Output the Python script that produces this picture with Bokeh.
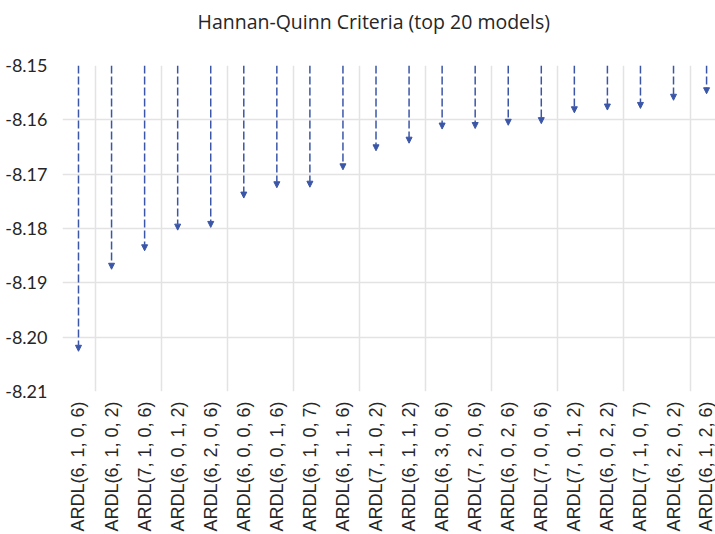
import math
from bokeh.plotting import figure
from bokeh.models import (ColumnDataSource, Range1d, FixedTicker, NumeralTickFormatter,
                          Arrow, NormalHead, Title)
from bokeh.embed import file_html
from bokeh.resources import INLINE

models = ["ARDL(6, 1, 0, 6)", "ARDL(6, 1, 0, 2)", "ARDL(7, 1, 0, 6)", "ARDL(6, 0, 1, 2)",
          "ARDL(6, 2, 0, 6)", "ARDL(6, 0, 0, 6)", "ARDL(6, 0, 1, 6)", "ARDL(6, 1, 0, 7)",
          "ARDL(6, 1, 1, 6)", "ARDL(7, 1, 0, 2)", "ARDL(6, 1, 1, 2)", "ARDL(6, 3, 0, 6)",
          "ARDL(7, 2, 0, 6)", "ARDL(6, 0, 2, 6)", "ARDL(7, 0, 0, 6)", "ARDL(7, 0, 1, 2)",
          "ARDL(6, 0, 2, 2)", "ARDL(7, 1, 0, 7)", "ARDL(6, 2, 0, 2)", "ARDL(6, 1, 2, 6)"]
hq = [-8.2026, -8.1875, -8.1841, -8.1803, -8.1798, -8.1744, -8.1725, -8.1724, -8.1692, -8.1657,
      -8.1643, -8.1617, -8.1616, -8.1610, -8.1607, -8.1587, -8.1582, -8.1579, -8.1564, -8.1552]
y_ticks = [-8.21, -8.20, -8.19, -8.18, -8.17, -8.16, -8.15]

y_min, y_max = y_ticks[0], y_ticks[-1]
xs = list(range(1, len(models) + 1))

p = figure(width=715, height=534, output_backend="svg", toolbar_location=None,
           x_range=Range1d(0.516, 20.27), y_range=Range1d(y_min, y_max),
           min_border_left=62, min_border_right=0, min_border_top=65, min_border_bottom=142)
p.outline_line_color = None
p.background_fill_color = "white"

p.title.text = "Hannan-Quinn Criteria (top 20 models)"
p.title.text_font = "Open Sans"
p.title.text_font_size = "19.5px"
p.title.text_font_style = "normal"
p.title.text_color = "#262626"
p.title.align = "left"
p.title.offset = 135
p.title.standoff = 10

# empty spacer between title and plot frame
p.add_layout(Title(text=" ", text_font_size="1px", standoff=23), "above")

src = ColumnDataSource(dict(x=xs, y0=[y_max] * len(xs), y1=hq))
arrow = Arrow(source=src, x_start="x", y_start="y0", x_end="x", y_end="y1",
              line_color="#3b56a8", line_width=1.5, line_dash="8 3",
              end=NormalHead(size=6, fill_color="#3b56a8", line_color="#3b56a8", line_width=1))
p.add_layout(arrow)

# axes
p.yaxis.ticker = FixedTicker(ticks=y_ticks)
p.yaxis.formatter = NumeralTickFormatter(format="0.00")
p.yaxis.major_label_text_font = "Lato"
p.yaxis.major_label_text_font_size = "18px"
p.yaxis.major_label_text_color = "#262626"
p.yaxis.axis_line_color = None
p.yaxis.major_tick_line_color = None
p.yaxis.minor_tick_line_color = None
p.yaxis.major_label_standoff = 9

p.xaxis.ticker = FixedTicker(ticks=xs)
p.xaxis.major_label_overrides = {x: m for x, m in zip(xs, models)}
p.xaxis.major_label_orientation = math.pi / 2
p.xaxis.major_label_text_font = "Liberation Sans"
p.xaxis.major_label_text_font_size = "18px"
p.xaxis.major_label_text_color = "#262626"
p.xaxis.axis_line_color = None
p.xaxis.major_tick_line_color = None
p.xaxis.minor_tick_line_color = None
p.xaxis.major_label_standoff = 4

# grids
p.ygrid.ticker = FixedTicker(ticks=y_ticks[1:-1])
p.ygrid.grid_line_color = "#e3e3e3"
p.ygrid.grid_line_width = 1.5
p.xgrid.ticker = FixedTicker(ticks=[x + 0.5 for x in xs[::2]])
p.xgrid.grid_line_color = "#e3e3e3"
p.xgrid.grid_line_width = 1.5

open("out.html", "w").write(file_html(p, INLINE))
